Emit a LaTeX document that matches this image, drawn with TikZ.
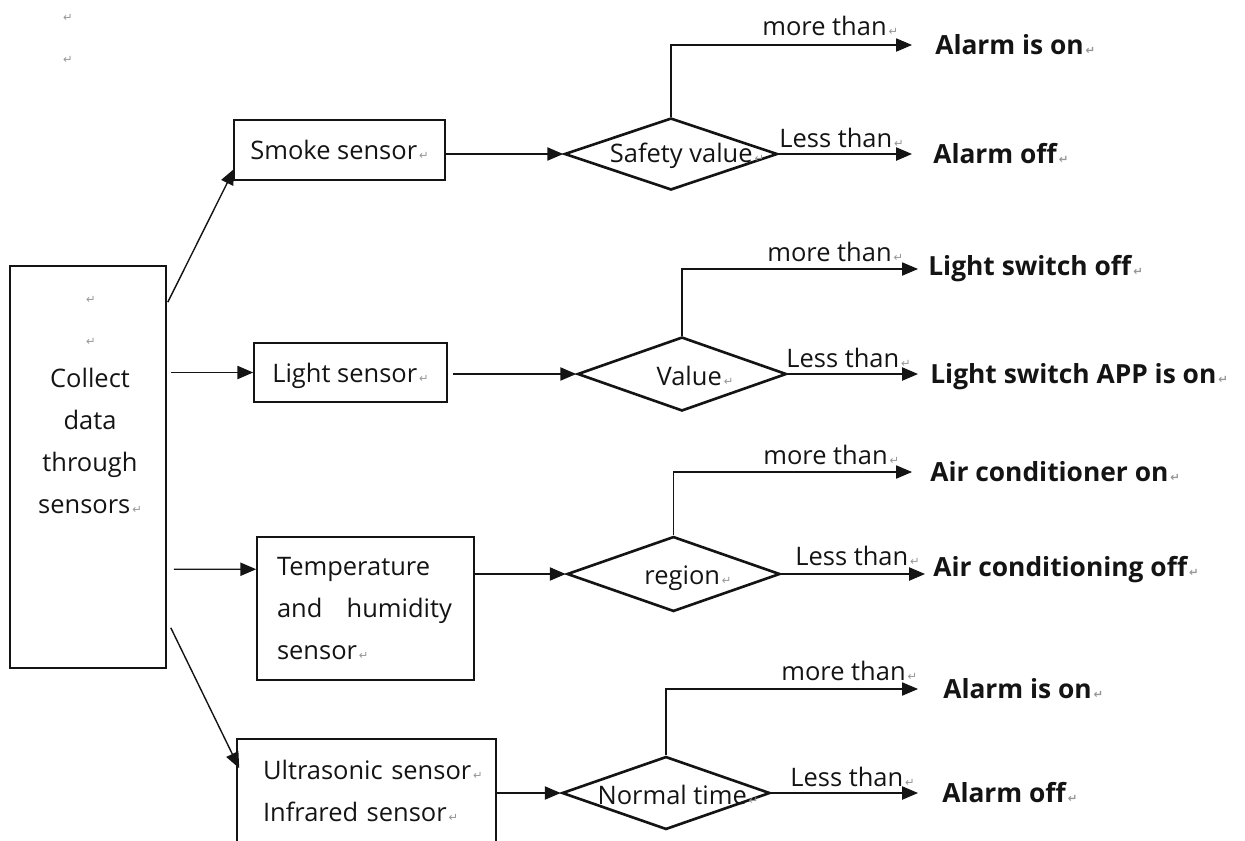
\documentclass[tikz,border=0pt]{standalone}
\usepackage{fontspec}
\setmainfont{Open Sans}
\newfontfamily\markfont{DejaVu Sans}
\usetikzlibrary{arrows.meta,shapes.geometric,calc}
\definecolor{markgrey}{RGB}{150,150,150}
\definecolor{inkblack}{RGB}{20,20,20}
\newcommand{\retmark}{{\markfont\fontsize{6.5}{6.5}\selectfont\color{markgrey}\,↵}}

\begin{document}
\begin{tikzpicture}[x=0.02cm, y=-0.02cm, inkblack,
    font=\fontsize{14.5}{24}\selectfont,
    box/.style={draw, line width=0.9pt, inner sep=0pt},
    decision/.style={draw, diamond, line width=1.5pt, inner sep=0pt},
    arr/.style={-{Triangle[length=9pt,width=7.5pt]}, line width=0.8pt},
    outcome/.style={anchor=west, inner sep=0pt, font=\fontsize{15}{18}\selectfont\bfseries},
    branchlabel/.style={anchor=base west, inner sep=0pt}]

    \clip (0,0) rectangle (1245,840);
    % stray paragraph marks
    \node (pm1) at (67,18) {\retmark};
    \node (pm2) at (67,60) {\retmark};

    % collecting box
    \node[box, minimum width=3.12cm, minimum height=8.04cm] (collect) at (88,467) {};
    \node[align=center] (collecttxt) at (90,405)
      {\retmark\\\retmark\\Collect\\data\\through\\sensors\retmark};

    % sensor boxes
    \node[box, minimum width=4.22cm, minimum height=1.2cm, text height=0.42cm, text depth=0.04cm]
      (smoke) at (339.5,150) {Smoke sensor\retmark};
    \node[box, minimum width=3.86cm, minimum height=1.18cm, text height=0.42cm, text depth=0.04cm]
      (light) at (350.5,372.5) {Light sensor\retmark};
    \node[box, text width=3.54cm, inner xsep=0.4cm, minimum height=2.86cm, align=left]
      (temp) at (365.5,608.5)
      {Temperature\\\makebox[3.5cm][l]{and\hfill humidity}\\sensor\retmark};
    \node[box, text width=4.14cm, inner xsep=0.52cm, minimum height=2.08cm, align=left]
      (ultra) at (366.5,791)
      {\mbox{Ultrasonic sensor\retmark}\\\mbox{Infrared sensor\retmark}};

    % decisions
    \node[decision, minimum width=4.26cm, minimum height=1.44cm] (safety) at (671,154) {};
    \node (safetytxt) at (687,156) {Safety value\retmark};
    \node[decision, minimum width=4.18cm, minimum height=1.48cm] (value) at (682,374) {};
    \node (valuetxt) at (695,376) {Value\retmark};
    \node[decision, minimum width=4.26cm, minimum height=1.5cm] (region) at (673.5,574) {};
    \node (regiontxt) at (688,578) {region\retmark};
    \node[decision, minimum width=4.16cm, minimum height=1.46cm] (normal) at (666,793) {};
    \node (normaltxt) at (678,795) {Normal time\retmark};

    % outcomes
    \node[outcome] (o1a) at (935,45) {Alarm is on\retmark};
    \node[outcome] (o1b) at (933,154) {Alarm off\retmark};
    \node[outcome] (o2a) at (928,269) {Light switch off\retmark};
    \node[outcome] (o2b) at (930,377) {Light switch APP is on\retmark};
    \node[outcome] (o3a) at (930,472) {Air conditioner on\retmark};
    \node[outcome] (o3b) at (933,570) {Air conditioning off\retmark};
    \node[outcome] (o4a) at (943,689) {Alarm is on\retmark};
    \node[outcome] (o4b) at (942,793) {Alarm off\retmark};

    % branch labels
    \node[branchlabel] (more1) at (762,35) {more than\retmark};
    \node[branchlabel] (less1) at (779,147) {Less than\retmark};
    \node[branchlabel] (more2) at (767,261) {more than\retmark};
    \node[branchlabel] (less2) at (786,367) {Less than\retmark};
    \node[branchlabel] (more3) at (763,464) {more than\retmark};
    \node[branchlabel] (less3) at (795,565) {Less than\retmark};
    \node[branchlabel] (more4) at (781,680) {more than\retmark};
    \node[branchlabel] (less4) at (790,786) {Less than\retmark};

    % collect -> sensors
    \draw[arr] ($(collect.north east)+(1,37)$) -- ($(smoke.south west)+(1,-12)$);
    \draw[arr] ($(collect.east |- light.west)+(4,0)$) -- (light.west);
    \draw[arr] ($(collect.north east)+(7,304)$) -- ($(temp.north west)+(0,33)$);
    \draw[arr] ($(collect.south east)+(4,-41)$) -- ($(ultra.north west)+(3,30)$);

    % sensors -> decisions
    \draw[arr] (smoke.east |- safety.west) -- (safety.west);
    \draw[arr] ($(light.east |- value.west)+(5,0)$) -- (value.west);
    \draw[arr] (temp.east |- region.west) -- (region.west);
    \draw[arr] (ultra.east |- normal.west) -- (normal.west);

    % decisions -> outcomes
    \draw[arr, line width=0.6pt, shorten >=0.46cm] (safety.north) |- (o1a.west);
    \draw[arr, shorten >=0.42cm] (safety.east) -- (safety.east -| o1b.west);
    \draw[arr, line width=0.6pt, shorten >=0.2cm] (value.north) |- (o2a.west);
    \draw[arr, shorten >=0.24cm] (value.east) -- (value.east -| o2b.west);
    \draw[arr, line width=0.6pt, shorten >=0.36cm] (region.north) |- (o3a.west);
    \draw[arr, shorten >=0.16cm] (region.east) -- (region.east -| o3b.west);
    \draw[arr, line width=0.6pt, shorten >=0.5cm] (normal.north) |- (o4a.west);
    \draw[arr, shorten >=0.48cm] (normal.east) -- (normal.east -| o4b.west);
\end{tikzpicture}
\end{document}
